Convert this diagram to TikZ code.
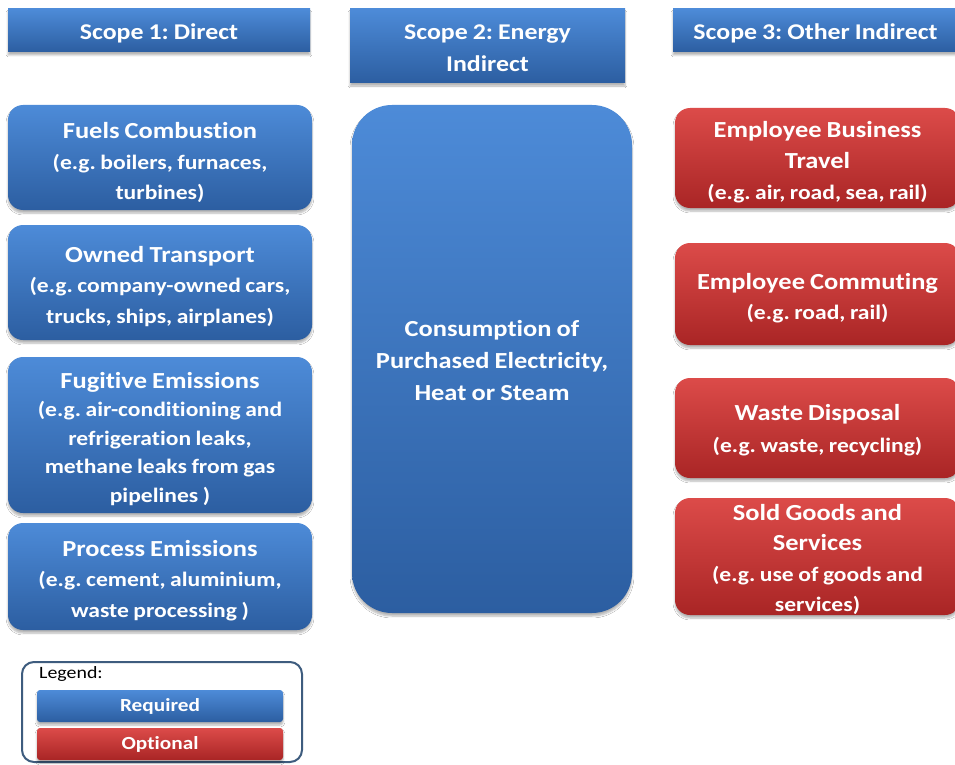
\documentclass[tikz,border=0pt]{standalone}
\usepackage{fontspec}
\setmainfont{Carlito}[FakeStretch=1.15, Ligatures={NoCommon}, WordSpace=0.85]
\usetikzlibrary{shadows.blur}
\definecolor{bluetop}{HTML}{4D8BD8}
\definecolor{bluebot}{HTML}{2C5EA1}
\definecolor{redtop}{HTML}{DC4B49}
\definecolor{redbot}{HTML}{A92525}
\definecolor{legframe}{HTML}{3E5C7E}
\newcommand\smtxt{\fontsize{20.5}{30.5}\selectfont}
\tikzset{
  shd/.style={blur shadow={shadow xshift=0pt, shadow yshift=-3pt, shadow blur steps=6, shadow opacity=30}},
  bluefill/.style={top color=bluetop, bottom color=bluebot, draw=none},
  redfill/.style={top color=redtop, bottom color=redbot, draw=none},
  hdr/.style={bluefill, shd, inner sep=0pt},
  hdrtext/.style={text=white, align=center, inner sep=0pt,
    font=\frenchspacing\fontsize{22.5}{32}\selectfont\bfseries},
  item/.style={shd, rounded corners=15pt, inner sep=0pt},
  bitem/.style={item, bluefill},
  ritem/.style={item, redfill},
  itext/.style={text=white, align=center, inner sep=0pt,
    font=\frenchspacing\fontsize{23}{30.5}\selectfont\bfseries},
  legbar/.style={shd, rounded corners=3pt, text=white, inner sep=0pt,
    minimum width=246pt, minimum height=32pt, font=\fontsize{18.5}{20}\selectfont\bfseries},
}
\begin{document}
\begin{tikzpicture}[x=1pt,y=-1pt]
\useasboundingbox (0,0) rectangle (955,765);
\fill[white] (0,0) rectangle (955,765);
% headers
\node[hdr, minimum width=302pt, minimum height=43pt] (h1) at (159,30.5) {};
\node[hdrtext] (h1t) at ([yshift=-3pt]h1.center) {Scope 1: Direct};
\node[hdr, minimum width=275pt, minimum height=74pt] (h2) at (487.5,46) {};
\node[hdrtext] (h2t) at ([yshift=-2pt]h2.center) {Scope 2: Energy\\Indirect};
\node[hdr, minimum width=285pt, minimum height=43pt] (h3) at (815.5,30.5) {};
\node[hdrtext] (h3t) at ([yshift=-3pt]h3.center) {Scope 3: Other Indirect};
% scope 1
\node[bitem, minimum width=304pt, minimum height=105pt] (fuel) at (160,157.5) {};
\node[itext] (fuelt) at ([yshift=-5pt]fuel.center)
  {Fuels Combustion\\\smtxt(e.g. boilers, furnaces,\\\smtxt turbines)};
\node[bitem, minimum width=304pt, minimum height=115pt] (own) at (160,282.5) {};
\node[itext] (ownt) at ([yshift=-4pt]own.center)
  {Owned Transport\\\smtxt(e.g. company-owned cars,\\\smtxt trucks, ships, airplanes)};
\node[bitem, minimum width=304pt, minimum height=156pt] (fug) at (160,435) {};
\node[itext, font=\frenchspacing\fontsize{23}{28.5}\selectfont\bfseries] (fugt) at ([yshift=-4pt]fug.center)
  {Fugitive Emissions\\\smtxt(e.g. air-conditioning and\\\smtxt refrigeration leaks,\\\smtxt methane leaks from gas\\\smtxt pipelines )};
\node[bitem, minimum width=304pt, minimum height=107pt] (proc) at (160,576.5) {};
\node[itext] (proct) at ([yshift=-4pt]proc.center)
  {Process Emissions\\\smtxt(e.g. cement, aluminium,\\\smtxt waste processing )};
% scope 2
\node[bitem, rounded corners=40pt, minimum width=280pt, minimum height=508pt] (cons) at (492,359) {};
\node[itext, font=\frenchspacing\fontsize{23}{32}\selectfont\bfseries] (const) at ([yshift=-2pt]cons.center)
  {Consumption of\\Purchased Electricity,\\Heat or Steam};
% scope 3
\node[ritem, minimum width=285pt, minimum height=100pt] (ebt) at (817.5,158) {};
\node[itext, font=\frenchspacing\fontsize{23}{31}\selectfont\bfseries] (ebtt) at ([yshift=-4pt]ebt.center)
  {Employee Business\\Travel\\\smtxt(e.g. air, road, sea, rail)};
\node[ritem, minimum width=285pt, minimum height=102pt] (ec) at (817.5,294) {};
\node[itext] (ect) at ([yshift=-4pt]ec.center) {Employee Commuting\\\smtxt(e.g. road, rail)};
\node[ritem, minimum width=285pt, minimum height=100pt] (wd) at (817.5,428) {};
\node[itext, font=\frenchspacing\fontsize{23}{32}\selectfont\bfseries] (wdt) at ([yshift=-2pt]wd.center)
  {Waste Disposal\\\smtxt(e.g. waste, recycling)};
\node[ritem, minimum width=285pt, minimum height=117pt] (sg) at (817.5,556.5) {};
\node[itext] (sgt) at ([yshift=-3pt]sg.center)
  {Sold Goods and\\Services\\\smtxt(e.g. use of goods and\\\smtxt services)};
% legend
\node[draw=legframe, line width=2pt, rounded corners=12pt, minimum width=280pt, minimum height=100pt, inner sep=0pt] (leg) at (162,712) {};
\node[anchor=west, font=\fontsize{17.3}{18}\selectfont, inner sep=0pt] (legt) at (39,674) {Legend:};
\node[legbar, bluefill] (req) at (160,706) {Required};
\node[legbar, redfill] (opt) at (160,744) {Optional};
\end{tikzpicture}
\end{document}
